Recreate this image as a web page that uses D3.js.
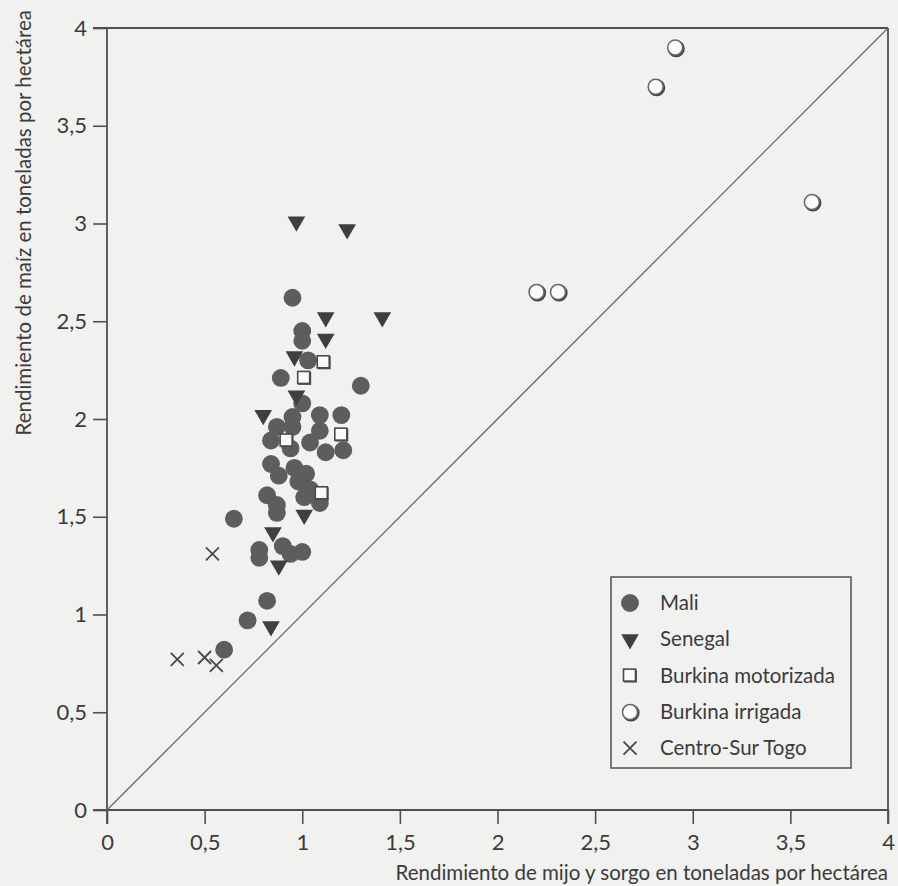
<!DOCTYPE html>
<html>
<head>
<meta charset="utf-8">
<script src="https://cdn.jsdelivr.net/npm/d3@7"></script>
<style>
  html, body { margin: 0; padding: 0; background: #f1f1f0; }
  svg { display: block; font-family: Lato, "DejaVu Sans", sans-serif; }
</style>
</head>
<body>
<script>
// rendimientos en t/ha : [mijo y sorgo, maiz]
const mali = [
  [0.95, 2.62], [1.00, 2.45], [1.00, 2.40], [1.03, 2.30], [0.89, 2.21], [1.30, 2.17],
  [1.00, 2.08], [0.95, 2.01], [1.09, 2.02], [1.20, 2.02], [0.87, 1.96], [0.95, 1.96],
  [1.09, 1.94], [0.84, 1.89], [1.04, 1.88], [1.12, 1.83], [1.21, 1.84], [0.94, 1.85],
  [0.84, 1.77], [0.88, 1.71], [0.96, 1.75], [1.02, 1.72], [0.98, 1.68], [1.04, 1.64],
  [0.82, 1.61], [0.87, 1.56], [1.01, 1.60], [1.09, 1.57], [0.87, 1.52], [0.65, 1.49],
  [0.78, 1.33], [0.78, 1.29], [0.90, 1.35], [0.94, 1.31], [1.00, 1.32], [0.82, 1.07],
  [0.72, 0.97], [0.60, 0.82]
];
const senegal = [
  [0.97, 3.01], [1.23, 2.97], [1.12, 2.52], [1.41, 2.52], [1.12, 2.41], [0.96, 2.32],
  [0.97, 2.12], [0.80, 2.02], [1.01, 1.51], [0.85, 1.42], [0.88, 1.25], [0.84, 0.94]
];
const burkinaMotorizada = [[1.11, 2.29], [1.01, 2.21], [1.20, 1.92], [0.92, 1.89], [1.10, 1.62]];
const burkinaIrrigada = [[2.91, 3.90], [2.81, 3.70], [3.61, 3.11], [2.20, 2.65], [2.31, 2.65]];
const centroSurTogo = [[0.54, 1.31], [0.36, 0.77], [0.50, 0.78], [0.56, 0.74]];

const seriesNames = ["Mali", "Senegal", "Burkina motorizada", "Burkina irrigada", "Centro-Sur Togo"];
const xTicks = [0, 0.5, 1, 1.5, 2, 2.5, 3, 3.5, 4];
const yTicks = [0, 0.5, 1, 1.5, 2, 2.5, 3, 3.5, 4];
const xTitle = "Rendimiento de mijo y sorgo en toneladas por hectárea";
const yTitle = "Rendimiento de maíz en toneladas por hectárea";

const width = 898, height = 886;
const ink = "#5d5d5d", textCol = "#3b3b3b", lineCol = "#505050";

const x = d3.scaleLinear().domain([0, 4]).range([107, 888]);
const y = d3.scaleLinear().domain([0, 4]).range([810, 28]);
const fmt = d => String(d).replace(".", ",");

const svg = d3.select("body").append("svg")
  .attr("width", width).attr("height", height);

svg.append("rect").attr("width", width).attr("height", height).attr("fill", "#f1f1f0");

// axes
const gx = svg.append("g")
  .attr("transform", `translate(0,${y(0)})`)
  .call(d3.axisBottom(x).tickValues(xTicks).tickSize(14).tickPadding(10).tickFormat(fmt));
const gy = svg.append("g")
  .attr("transform", `translate(${x(0)},0)`)
  .call(d3.axisLeft(y).tickValues(yTicks).tickSize(14).tickPadding(6).tickFormat(fmt));

[gx, gy].forEach(g => {
  g.select(".domain").remove();
  g.selectAll(".tick line").attr("stroke", lineCol).attr("stroke-width", 1.6);
  g.selectAll(".tick text").attr("fill", textCol).style("font-size", "22px")
    .style("font-family", "Lato, sans-serif");
});

// frame
const frame = svg.append("g").attr("stroke", lineCol).attr("stroke-width", 1.8).attr("fill", "none");
frame.append("line").attr("x1", x(0) - 14).attr("x2", x(4)).attr("y1", y(4)).attr("y2", y(4));
frame.append("line").attr("x1", x(0) - 14).attr("x2", x(4)).attr("y1", y(0)).attr("y2", y(0));
frame.append("line").attr("x1", x(0)).attr("x2", x(0)).attr("y1", y(4)).attr("y2", y(0) + 14);
frame.append("line").attr("x1", x(4)).attr("x2", x(4)).attr("y1", y(4)).attr("y2", y(0) + 14);

// diagonal
svg.append("line")
  .attr("x1", x(0)).attr("y1", y(0)).attr("x2", x(4)).attr("y2", y(4))
  .attr("stroke", "#6a6a6a").attr("stroke-width", 1.3);

// markers
const circlePath = d3.symbol(d3.symbolCircle, 250)();
const triPath = d3.symbol(d3.symbolTriangle, 135)();

function drawMali(g) {
  g.append("path").attr("d", circlePath).attr("fill", ink);
}
function drawSenegal(g) {
  g.append("path").attr("d", triPath).attr("transform", "rotate(180)").attr("fill", "#3f3f3f");
}
function drawMotor(g) {
  g.append("rect").attr("x", -6).attr("y", -6).attr("width", 13).attr("height", 13)
    .attr("fill", "#555");
  g.append("rect").attr("x", -6.5).attr("y", -6.5).attr("width", 12).attr("height", 12)
    .attr("fill", "#fafafa").attr("stroke", "#4a4a4a").attr("stroke-width", 1.6);
}
function drawIrrig(g) {
  g.append("circle").attr("cx", 1).attr("cy", 1).attr("r", 7.5)
    .attr("fill", "none").attr("stroke", "#444").attr("stroke-width", 2.2);
  g.append("circle").attr("r", 7.5)
    .attr("fill", "#fbfbfb").attr("stroke", "#6a6a6a").attr("stroke-width", 1.5);
}
function drawTogo(g) {
  g.append("path").attr("d", "M-6.5,-6.5L6.5,6.5M-6.5,6.5L6.5,-6.5")
    .attr("stroke", "#4a4a4a").attr("stroke-width", 1.8).attr("fill", "none");
}

const series = [
  { name: seriesNames[0], data: mali, draw: drawMali },
  { name: seriesNames[1], data: senegal, draw: drawSenegal },
  { name: seriesNames[2], data: burkinaMotorizada, draw: drawMotor },
  { name: seriesNames[3], data: burkinaIrrigada, draw: drawIrrig },
  { name: seriesNames[4], data: centroSurTogo, draw: drawTogo }
];

series.forEach(s => {
  svg.append("g").selectAll("g")
    .data(s.data)
    .join("g")
    .attr("transform", d => `translate(${x(d[0])},${y(d[1])})`)
    .each(function() { s.draw(d3.select(this)); });
});

// legend
const legend = svg.append("g");
legend.append("rect")
  .attr("x", 611).attr("y", 577).attr("width", 240).attr("height", 191)
  .attr("fill", "#f1f1f0").attr("stroke", lineCol).attr("stroke-width", 1.5);
const items = legend.selectAll("g.item")
  .data(series)
  .join("g")
  .attr("class", "item")
  .attr("transform", (d, i) => `translate(630,${603 + i * 36.3})`);
items.each(function(d) { d.draw(d3.select(this)); });
items.append("text")
  .attr("x", 30).attr("dy", "0.35em")
  .attr("fill", textCol).style("font-size", "20.5px")
  .text(d => d.name);

// axis titles
svg.append("text")
  .attr("x", x(4)).attr("y", 880)
  .attr("text-anchor", "end").attr("fill", textCol).style("font-size", "20.5px")
  .text(xTitle);
svg.append("text")
  .attr("transform", "translate(31,10) rotate(-90)")
  .attr("text-anchor", "end").attr("fill", textCol).style("font-size", "20.5px")
  .text(yTitle);
</script>
</body>
</html>
